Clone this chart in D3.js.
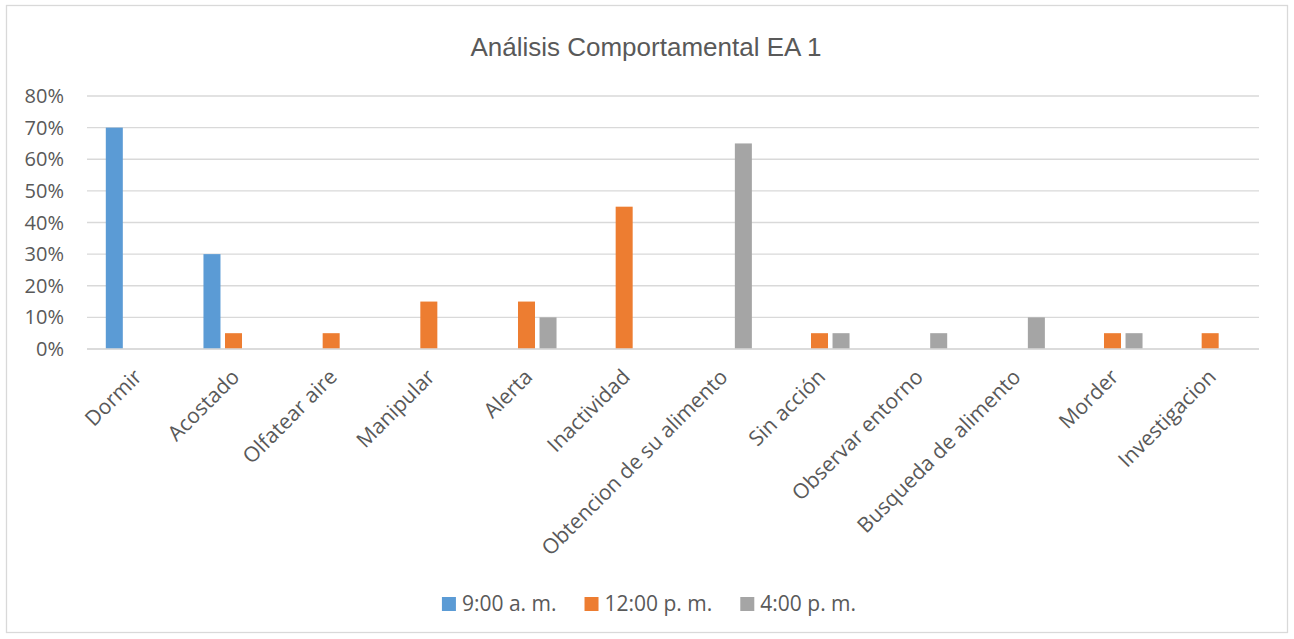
<!DOCTYPE html>
<html>
<head>
<meta charset="utf-8">
<script src="https://cdn.jsdelivr.net/npm/d3@7"></script>
<style>
  body { margin: 0; background: #fff; }
  svg { display: block; }
</style>
</head>
<body>
<div id="chart"></div>
<script>
// data
const categories = ["Dormir", "Acostado", "Olfatear aire", "Manipular", "Alerta", "Inactividad",
  "Obtencion de su alimento", "Sin acción", "Observar entorno", "Busqueda de alimento", "Morder", "Investigacion"];
const seriesNames = ["9:00 a. m.", "12:00 p. m.", "4:00 p. m."];
const morning = [0.70, 0.30, 0, 0, 0, 0, 0, 0, 0, 0, 0, 0];
const noon = [0, 0.05, 0.05, 0.15, 0.15, 0.45, 0, 0.05, 0, 0, 0.05, 0.05];
const afternoon = [0, 0, 0, 0, 0.10, 0, 0.65, 0.05, 0.05, 0.10, 0.05, 0];
const yTicks = [0, 0.1, 0.2, 0.3, 0.4, 0.5, 0.6, 0.7, 0.8];
const colors = ["#5B9BD5", "#ED7D31", "#A5A5A5"];

const width = 1294, height = 639;
const svg = d3.select("#chart").append("svg").attr("width", width).attr("height", height);

// chart border
svg.append("rect").attr("x", 6.5).attr("y", 5.5).attr("width", 1281).attr("height", 627)
  .attr("fill", "#fff").attr("stroke", "#d9d9d9").attr("stroke-width", 1.3);

// title
svg.append("text").attr("x", 646).attr("y", 56).attr("text-anchor", "middle")
  .attr("font-family", "Liberation Sans, Arial, sans-serif").attr("font-size", 26)
  .attr("fill", "#595959").text("Análisis Comportamental EA 1");

const x = d3.scaleBand().domain(categories).range([87, 1259]).padding(0);
const y = d3.scaleLinear().domain([0, 0.8]).range([349, 96]);
const groupW = x.bandwidth() * 0.615;
const xs = d3.scaleBand().domain(seriesNames).range([0, groupW]).paddingInner(0.21);

// gridlines
svg.append("g").selectAll("line").data(yTicks).join("line")
  .attr("x1", 87).attr("x2", 1259)
  .attr("y1", d => y(d)).attr("y2", d => y(d))
  .attr("stroke", "#d9d9d9").attr("stroke-width", 1.3);

// y labels
svg.append("g").selectAll("text").data(yTicks).join("text")
  .attr("x", 64).attr("y", d => y(d)).attr("dy", "0.35em")
  .attr("text-anchor", "end").attr("font-family", "Open Sans, sans-serif")
  .attr("font-size", 20).attr("fill", "#595959")
  .text(d3.format(".0%"));

// bars
const table = categories.map((c, i) => ({ cat: c, vals: [morning[i], noon[i], afternoon[i]] }));
const groups = svg.append("g").selectAll("g").data(table).join("g")
  .attr("transform", d => `translate(${x(d.cat) + (x.bandwidth() - groupW) / 2},0)`);
groups.selectAll("rect").data(d => d.vals.map((v, k) => ({ v, k })).filter(e => e.v > 0)).join("rect")
  .attr("x", e => xs(seriesNames[e.k]))
  .attr("width", xs.bandwidth())
  .attr("y", e => y(e.v))
  .attr("height", e => y(0) - y(e.v))
  .attr("fill", e => colors[e.k]);

// baseline over bars
svg.append("line").attr("x1", 87).attr("x2", 1259).attr("y1", y(0)).attr("y2", y(0))
  .attr("stroke", "#d9d9d9").attr("stroke-width", 1.3);

// category labels
svg.append("g").selectAll("text").data(categories).join("text")
  .attr("transform", d => `translate(${x(d) + x.bandwidth() / 2 + 2},${373}) rotate(-45)`)
  .attr("text-anchor", "end").attr("dy", "0.35em")
  .attr("font-family", "Open Sans, sans-serif").attr("font-size", 21)
  .attr("fill", "#595959").text(d => d);

// legend
const legend = svg.append("g").attr("transform", "translate(0,604)");
const items = legend.selectAll("g").data(seriesNames).join("g");
items.append("rect").attr("y", -7).attr("width", 14).attr("height", 14).attr("fill", (d, i) => colors[i]);
items.append("text").attr("x", 20).attr("dy", "0.35em")
  .attr("font-family", "Open Sans, sans-serif").attr("font-size", 21)
  .attr("fill", "#595959").text(d => d);
let cx = 0;
const offsets = [];
items.each(function () {
  offsets.push(cx);
  cx += 20 + this.querySelector("text").getComputedTextLength() + 28;
});
const totalW = cx - 28;
items.attr("transform", (d, i) => `translate(${649 - totalW / 2 + offsets[i]},0)`);
</script>
</body>
</html>
